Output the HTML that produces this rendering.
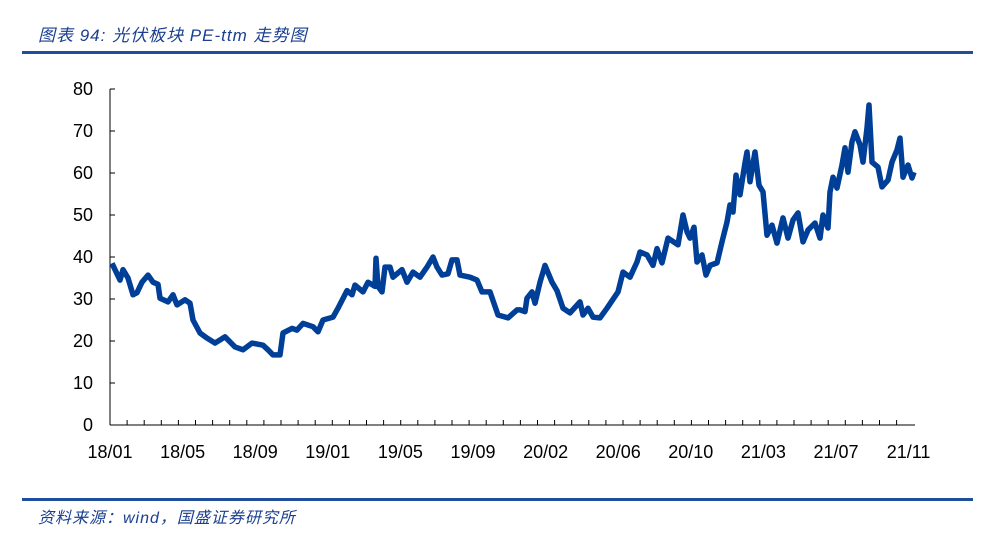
<!DOCTYPE html>
<html><head><meta charset="utf-8"><style>
body{margin:0;width:995px;height:551px;background:#fff;overflow:hidden;font-family:"Liberation Sans","Noto Sans CJK SC",sans-serif}
.t{position:absolute;left:38px;top:21px;font-size:17px;font-style:italic;color:#1a3f8f;letter-spacing:1px}
.s{position:absolute;left:38px;top:504px;font-size:16px;font-style:italic;color:#1a3f8f;letter-spacing:1px}
.hl{position:absolute;left:22px;width:951px;height:3px;background:#1f4e9c}
</style></head><body>
<div class="t">图表 94:  光伏板块 PE-ttm 走势图</div>
<div class="hl" style="top:51px"></div>
<div class="hl" style="top:498px"></div>
<div class="s">资料来源：wind，国盛证券研究所</div>
<svg id="c" width="995" height="551" style="position:absolute;left:0;top:0"></svg>
<script>
const tickLabels=["18/01","18/05","18/09","19/01","19/05","19/09","20/02","20/06","20/10","21/03","21/07","21/11"];
const yTicks=[0,10,20,30,40,50,60,70,80];
const days=[2,7,10,13,18,23,27,32,38,43,48,50,58,63,67,75,80,83,90,97,105,115,125,133,142,153,158,163,170,173,182,187,193,203,208,213,223,228,237,242,245,253,258,265,266,268,272,275,280,283,292,297,303,310,317,323,327,332,338,342,347,350,360,367,372,380,388,398,407,410,415,417,422,425,430,435,442,447,453,460,470,473,478,483,490,497,508,513,520,527,530,537,543,547,552,558,568,573,577,580,584,587,592,596,600,607,612,617,620,623,626,630,635,637,640,645,649,653,657,662,667,673,678,683,688,693,698,705,710,713,718,720,723,727,732,735,738,742,745,750,753,757,759,762,768,772,778,782,787,790,793,798,802,804];
const values=[38.5,36,34.5,37,35,31,31.5,34,35.7,34,33.5,30.2,29.3,31,28.6,29.8,29,25,21.9,20.7,19.5,21,18.6,17.9,19.5,19,17.9,16.7,16.7,21.9,23,22.6,24.2,23.4,22.2,25,25.7,27.8,32,31,33.3,31.7,34,33,39.7,33,31.7,37.6,37.6,35.2,37,34,36.4,35.2,37.6,40,37.6,35.7,36,39.3,39.3,35.7,35.2,34.5,31.7,31.7,26.2,25.5,27.4,27.4,27,30.2,31.7,29,34,38,34,32,27.8,26.7,29.3,26.2,27.8,25.7,25.5,27.8,31.7,36.4,35.2,38.8,41.2,40.5,38,42,38.6,44.5,42.9,50,46,44.5,47.1,38.8,40.5,35.7,38,38.6,43.6,48.3,52.4,50.7,59.5,54.8,62.4,65,57.9,65,57.1,55.5,45.2,47.6,43.3,49.3,44.5,48.8,50.5,43.6,46.4,48.1,44.5,50,46.9,55.5,59,56.4,61.9,66,60.2,67.4,69.8,66.7,62.6,70.7,76.2,62.6,61.4,56.7,58.3,62.6,65.5,68.3,59,61.9,58.8,60.2];
const X0=110,X1=915,Y0=425,Y1=89;
const xs=d=>X0+d*(X1-X0)/805;
const ys=v=>Y0-(v/80)*(Y0-Y1);
const svg=document.getElementById('c');const NS='http://www.w3.org/2000/svg';
function mk(t,a){const e=document.createElementNS(NS,t);for(const k in a)e.setAttribute(k,a[k]);svg.appendChild(e);return e;}
const ya=mk('line',{x1:X0,y1:Y1,x2:X0,y2:Y0,stroke:'#000','stroke-width':1});


const xa=mk('line',{x1:X0,y1:Y0,x2:X1,y2:Y0,stroke:'#000','stroke-width':1});


yTicks.forEach(v=>{
 mk('line',{x1:X0,y1:ys(v),x2:X0+5,y2:ys(v),stroke:'#000'});
 const t=mk('text',{x:X0-17,y:ys(v)+6,'text-anchor':'end','font-size':18,fill:'#000'});t.textContent=v;
 
 
});
tickLabels.forEach((l,i)=>{
 const x=X0+i*72.6;
 const t=mk('text',{x:x,y:458,'text-anchor':'middle','font-size':18,fill:'#000'});t.textContent=l;
 
 
});
for(let k=1;k<47;k++){const x=X0+k*17.1;if(x>X1)break;mk('line',{x1:x,y1:Y0,x2:x,y2:Y0-5,stroke:'#000'});}
const p=mk('path',{d:days.map((d,i)=>(i?'L':'M')+xs(d).toFixed(1)+','+ys(values[i]).toFixed(1)).join(''),fill:'none',stroke:'#003f98','stroke-width':5.5,'stroke-linejoin':'round'});


</script>
</body></html>
